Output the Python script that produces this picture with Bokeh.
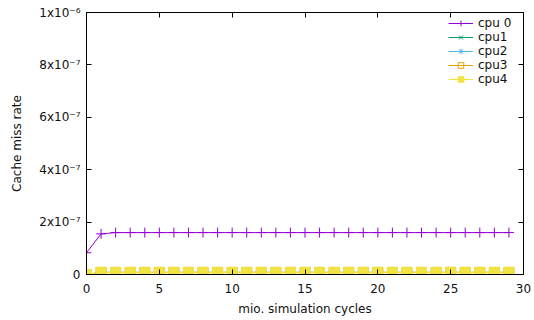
from bokeh.plotting import figure
from bokeh.models import (Range1d, LinearAxis, FixedTicker, CustomJSTickFormatter,
                          Legend, LegendItem, CustomLabelingPolicy)
from bokeh.embed import file_html
from bokeh.resources import INLINE

# ---- data ----
cycles = list(range(30))
cpu0 = [8.3e-8, 1.55e-7] + [1.6e-7] * 28
cpu1 = [0.0] + [8e-9] * 29
cpu2 = [0.0] + [8e-9] * 29
cpu3 = [0.0] + [8e-9] * 29
cpu4 = [0.0] + [8e-9] * 29

series_names = ["cpu 0", "cpu1", "cpu2", "cpu3", "cpu4"]
series_values = [cpu0, cpu1, cpu2, cpu3, cpu4]
series_colors = ["#9400d3", "#009e73", "#56b4e9", "#e69f00", "#f0e442"]
series_markers = ["cross", "x", "asterisk", "square", "square"]
series_filled = [False, False, False, False, True]

x_ticks = [0, 5, 10, 15, 20, 25, 30]
y_ticks = [0, 2e-7, 4e-7, 6e-7, 8e-7, 1e-6]

FONT = "DejaVu Sans"
TXT = "#111111"

p = figure(width=534, height=320, output_backend="svg", toolbar_location=None,
           x_range=Range1d(0, 30), y_range=Range1d(0, 1e-6),
           min_border_left=86, min_border_right=11, min_border_top=12,
           min_border_bottom=46)
p.xgrid.visible = False
p.ygrid.visible = False
p.outline_line_color = "black"
p.outline_line_width = 1
p.background_fill_color = "white"
p.border_fill_color = "white"

yfmt = CustomJSTickFormatter(code="""
if (tick == 0) return "0";
const e = Math.floor(Math.log10(Math.abs(tick)) + 1e-9);
const m = Math.round(tick / Math.pow(10, e));
const sup = {"-":"\u207b","0":"\u2070","1":"\u00b9","2":"\u00b2","3":"\u00b3","4":"\u2074","5":"\u2075","6":"\u2076","7":"\u2077","8":"\u2078","9":"\u2079"};
return m + "x10" + String(e).split("").map(c => sup[c]).join("");
""")

blank_fmt = CustomJSTickFormatter(code='return ""')
no_labels = CustomLabelingPolicy(code="""
for (const i of Array.from(indices)) indices.unset(i)
return indices
""")

def style_axis(ax):
    ax.axis_line_color = "black"
    ax.major_tick_line_color = "black"
    ax.major_tick_in = 5
    ax.major_tick_out = 0
    ax.minor_tick_line_color = None
    ax.major_label_text_font = FONT
    ax.major_label_text_font_size = "12px"
    ax.major_label_text_color = TXT
    ax.axis_label_text_font = FONT
    ax.axis_label_text_font_size = "12px"
    ax.axis_label_text_font_style = "normal"
    ax.axis_label_text_color = TXT

p.xaxis.ticker = FixedTicker(ticks=x_ticks)
p.yaxis.ticker = FixedTicker(ticks=y_ticks)
p.yaxis.formatter = yfmt
p.xaxis.axis_label = "mio. simulation cycles"
p.yaxis.axis_label = "Cache miss rate"
style_axis(p.xaxis[0])
style_axis(p.yaxis[0])
p.xaxis.major_label_standoff = 9
p.yaxis.major_label_standoff = 6
p.xaxis.axis_label_standoff = 6
p.yaxis.axis_label_standoff = 12

top_ax = LinearAxis(ticker=FixedTicker(ticks=x_ticks), formatter=blank_fmt,
                    major_label_policy=no_labels, major_label_standoff=0)
right_ax = LinearAxis(ticker=FixedTicker(ticks=y_ticks), formatter=blank_fmt,
                      major_label_policy=no_labels, major_label_standoff=0)
style_axis(top_ax)
style_axis(right_ax)
p.add_layout(top_ax, "above")
p.add_layout(right_ax, "right")

items = []
for name, vals, col, mk, filled in zip(series_names, series_values, series_colors,
                                        series_markers, series_filled):
    ln = p.line(cycles, vals, line_color=col, line_width=1)
    sc = p.scatter(cycles, vals, marker=mk, size=10, line_color=col, line_width=1,
                   fill_color=col if filled else None)
    items.append(LegendItem(label=name, renderers=[ln, sc]))

legend = Legend(items=items, location=(362, 188), background_fill_alpha=0,
                border_line_color=None, padding=0, spacing=0, margin=0,
                glyph_width=25, glyph_height=14, label_height=14,
                label_standoff=5, label_text_font=FONT,
                label_text_font_size="12px", label_text_color=TXT)
p.add_layout(legend, "center")

open("out.html", "w").write(file_html(p, INLINE))
